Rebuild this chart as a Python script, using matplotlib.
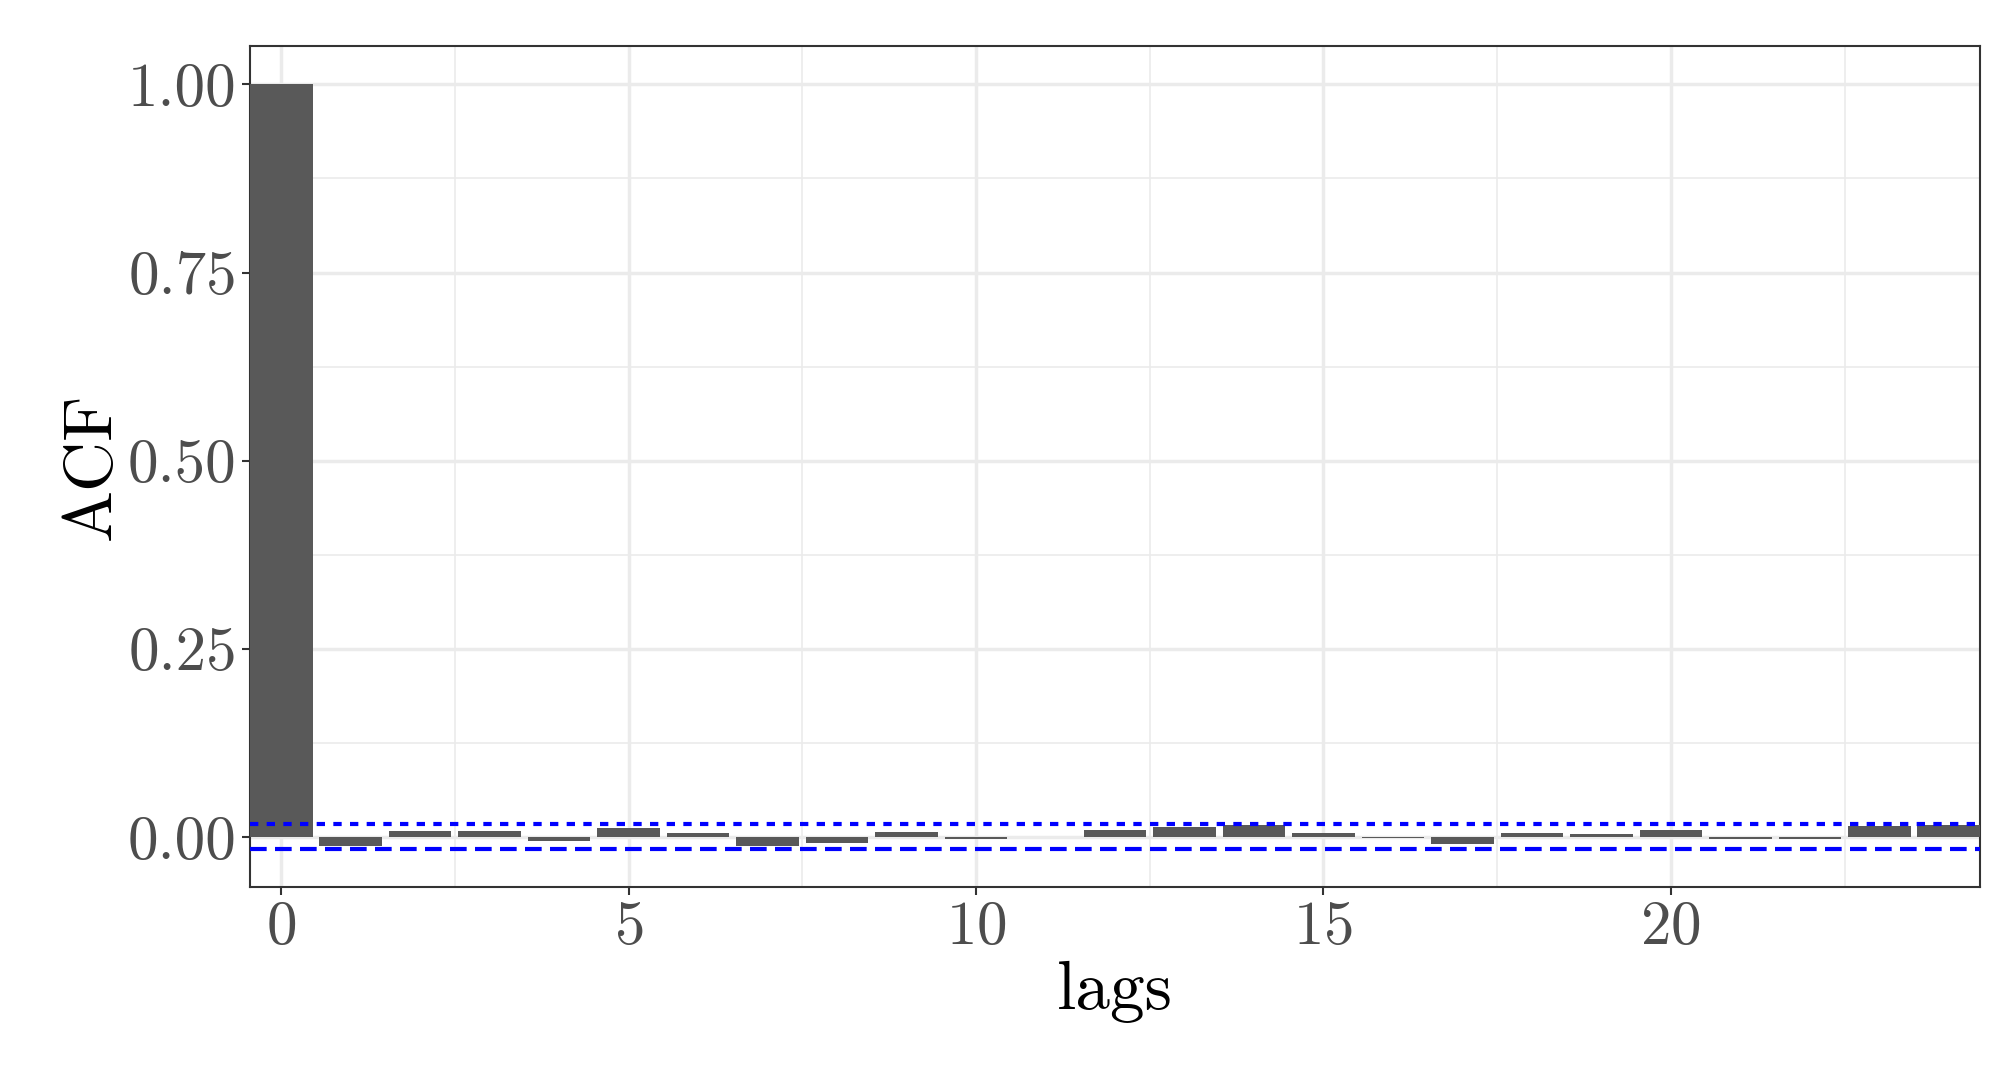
import matplotlib
matplotlib.use("Agg")
import matplotlib.pyplot as plt
import numpy as np

lags = list(range(25))
acf = [1.0, -0.0115, 0.008, 0.008, -0.006, 0.012, 0.0053, -0.0115, -0.008, 0.0066,
       -0.0027, -0.0008, 0.0093, 0.0133, 0.016, 0.0053, -0.001, -0.009, 0.0053, 0.004,
       0.0093, -0.0027, -0.0027, 0.0146, 0.016]
ci_upper = 0.0177
ci_lower = -0.0163

plt.rcParams['font.family'] = ['cmr10']
plt.rcParams['axes.formatter.use_mathtext'] = True
fig = plt.figure(figsize=(20.12, 10.65), dpi=100)
ax = fig.add_axes([250/2012, 1-887/1065, (1980-250)/2012, (887-46)/1065])
ax.bar(lags, acf, width=0.9, color='#595959', zorder=3)
ax.axhline(ci_upper, color='blue', lw=3, ls=(0, (2, 2)), zorder=4)
ax.axhline(ci_lower, color='blue', lw=3, ls=(0, (4, 2)), zorder=4)
ax.set_xlim(-0.45, 24.45)
ax.set_ylim(-0.0666, 1.051)
ax.set_xticks([0, 5, 10, 15, 20])
ax.set_yticks([0, 0.25, 0.5, 0.75, 1.0])
ax.set_yticklabels(['0.00', '0.25', '0.50', '0.75', '1.00'])
ax.set_xticks(np.arange(2.5, 24, 5), minor=True)
ax.set_yticks([0.125, 0.375, 0.625, 0.875], minor=True)
ax.grid(True, which='major', color='#EBEBEB', lw=2.5, zorder=0)
ax.grid(True, which='minor', color='#EBEBEB', lw=1.2, zorder=0)
ax.tick_params(which='minor', length=0)
ax.tick_params(which='major', length=6, width=1.5, color='#333333', labelsize=44, labelcolor='#4D4D4D')
for s in ax.spines.values():
    s.set_color('#333333'); s.set_linewidth(1.5)
ax.set_xlabel('lags', fontsize=50)
ax.set_ylabel('ACF', fontsize=50)
fig.savefig('out.png', dpi=100)
